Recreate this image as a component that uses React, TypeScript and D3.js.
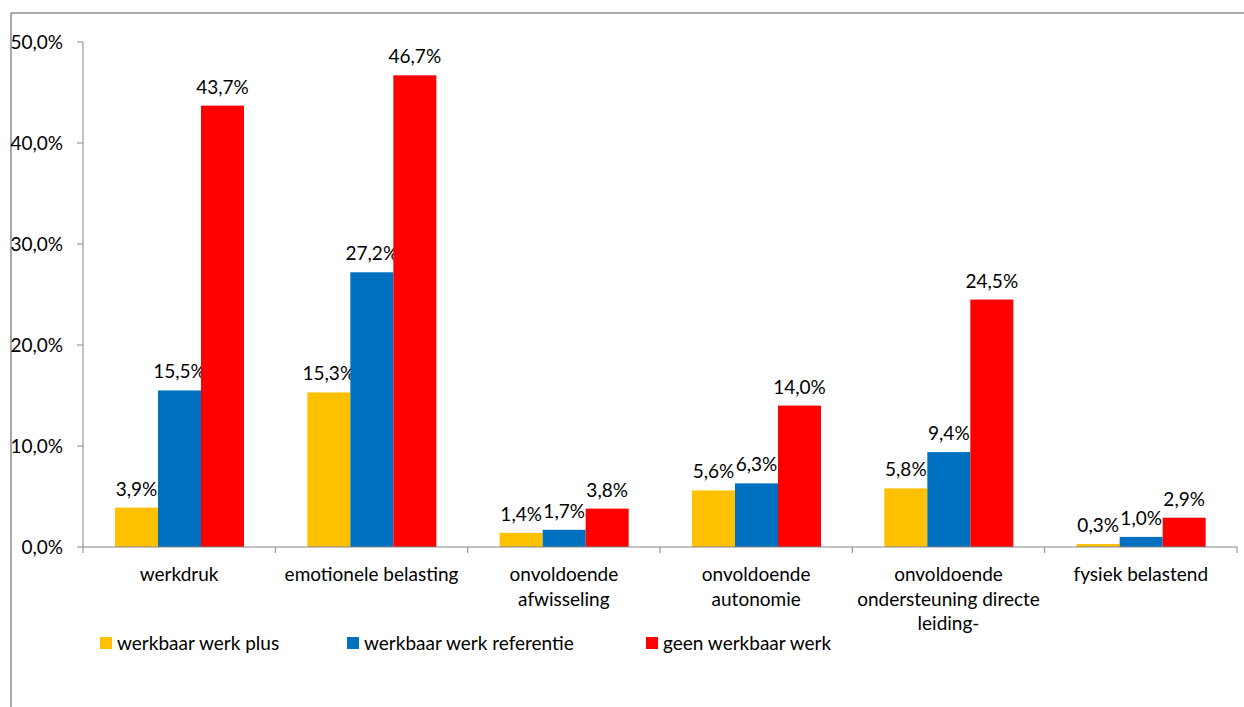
import React from 'react';
import * as d3 from 'd3';

// categories (multi-line labels) and the three series
const categories = [
  'werkdruk',
  'emotionele belasting',
  'onvoldoende afwisseling',
  'onvoldoende autonomie',
  'onvoldoende ondersteuning directe leiding-',
  'fysiek belastend',
];
const categoryLines = [
  ['werkdruk'],
  ['emotionele belasting'],
  ['onvoldoende', 'afwisseling'],
  ['onvoldoende', 'autonomie'],
  ['onvoldoende', 'ondersteuning directe', 'leiding-'],
  ['fysiek belastend'],
];

const seriesNames = ['werkbaar werk plus', 'werkbaar werk referentie', 'geen werkbaar werk'];
const plusValues = [3.9, 15.3, 1.4, 5.6, 5.8, 0.3];
const referentieValues = [15.5, 27.2, 1.7, 6.3, 9.4, 1.0];
const geenValues = [43.7, 46.7, 3.8, 14.0, 24.5, 2.9];
const seriesColors = ['#FFC000', '#0070C0', '#FF0000'];
const yTicks = [0, 10, 20, 30, 40, 50];

const FONT = 'Lato, "Noto Sans", sans-serif';
const FS = 19;
const fmt = (v: number) => v.toFixed(1).replace('.', ',') + '%';

export default function App() {
  const width = 1244;
  const height = 707;
  const left = 83;
  const right = 1237;
  const top = 42;
  const bottom = 547;

  const x = d3.scaleBand<string>().domain(categories).range([left, right]).padding(0);
  const inner = d3.scaleBand<number>().domain([0, 1, 2]).range([32, 161]).padding(0);
  const y = d3.scaleLinear().domain([0, 50]).range([bottom, top]);

  const series = [plusValues, referentieValues, geenValues];
  const axisColor = '#868686';
  const legendX = [100, 347, 646];

  return (
    <div style={{ position: 'fixed', left: 0, top: 0, width, height, background: '#fff' }}>
      <svg width={width} height={height} style={{ display: 'block', fontFamily: FONT }}>
        {/* chart frame, clipped by the page */}
        <line x1={11} x2={width} y1={13} y2={13} stroke="#8c8c8c" strokeWidth={1.5} />
        <line x1={11} x2={11} y1={13} y2={height} stroke="#8c8c8c" strokeWidth={1.5} />

        {/* y axis */}
        <line x1={left} x2={left} y1={top} y2={bottom} stroke={axisColor} />
        {yTicks.map(t => (
          <g key={t}>
            <line x1={left - 6} x2={left} y1={y(t)} y2={y(t)} stroke={axisColor} />
            <text x={63} y={y(t)} dy="0.35em" textAnchor="end" fontSize={FS} fill="#000">
              {fmt(t)}
            </text>
          </g>
        ))}

        {/* bars + value labels */}
        {categories.map((c, i) => (
          <g key={c} transform={`translate(${x(c)},0)`}>
            {series.map((vals, s) => (
              <g key={s}>
                <rect
                  x={inner(s)}
                  y={y(vals[i])}
                  width={inner.bandwidth()}
                  height={bottom - y(vals[i])}
                  fill={seriesColors[s]}
                />
                <text
                  x={inner(s)! + inner.bandwidth() / 2}
                  y={y(vals[i]) - 12}
                  textAnchor="middle"
                  fontSize={FS}
                  fill="#000"
                >
                  {fmt(vals[i])}
                </text>
              </g>
            ))}
          </g>
        ))}

        {/* x axis */}
        <line x1={left} x2={right} y1={bottom} y2={bottom} stroke={axisColor} />
        {d3.range(categories.length + 1).map(k => {
          const tx = left + k * x.bandwidth();
          return <line key={k} x1={tx} x2={tx} y1={bottom} y2={bottom + 6} stroke={axisColor} />;
        })}
        {categories.map((c, i) => (
          <text key={c} textAnchor="middle" fontSize={FS} fill="#000">
            {categoryLines[i].map((line, j) => (
              <tspan key={j} x={x(c)! + x.bandwidth() / 2} y={581 + j * 24.5}>
                {line}
              </tspan>
            ))}
          </text>
        ))}

        {/* legend */}
        {seriesNames.map((name, s) => (
          <g key={name}>
            <rect x={legendX[s]} y={637} width={12} height={12} fill={seriesColors[s]} />
            <text x={legendX[s] + 17} y={650} fontSize={FS} fill="#000">
              {name}
            </text>
          </g>
        ))}
      </svg>
    </div>
  );
}
